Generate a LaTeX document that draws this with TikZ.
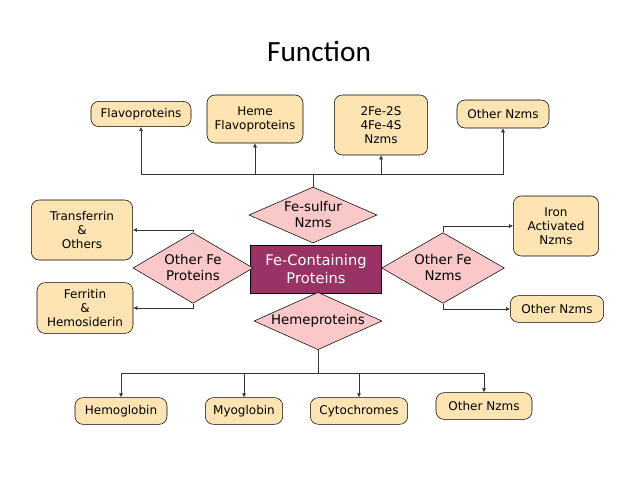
\documentclass[tikz,border=0pt]{standalone}
\usepackage{fontspec}
\setmainfont{DejaVu Sans}
\newfontfamily\titlefont{Carlito}
\usetikzlibrary{shapes.geometric,arrows.meta}
\definecolor{boxfill}{RGB}{253,228,178}
\definecolor{pinkfill}{RGB}{250,200,200}
\definecolor{plum}{RGB}{153,51,102}
\begin{document}
\begin{tikzpicture}[x=0.75pt,y=-0.75pt,
	leaf/.style = {draw, fill=boxfill, rounded corners=6pt, align=center, font=\fontsize{9}{10.5}\selectfont, inner sep=2pt},
	kind/.style = {draw, fill=pinkfill, diamond, aspect=2.2, align=center, font=\fontsize{10}{12}\selectfont, inner sep=0pt},
	link/.style = {draw=black!80, thin, -{Latex[length=3pt,width=3pt]}},
	line/.style = {draw=black!80, thin}]

	\useasboundingbox (0,0) rectangle (638,479);
	\node[font=\titlefont\fontsize{22}{26}\selectfont] (title) at (319,51) {Function};

	% centre and the four kinds
	\node[draw, fill=plum, text=white, minimum width=98pt, minimum height=36pt, align=center, font=\fontsize{11}{13}\selectfont] (fe) at (316,269) {Fe-Containing\\Proteins};
	\node[kind, minimum width=96pt, minimum height=42pt] (sulfur) at (313,215) {Fe-sulfur\\Nzms};
	\node[kind, minimum width=90pt, minimum height=53pt] (otherp) at (193,268) {Other Fe\\Proteins};
	\node[kind, minimum width=92pt, minimum height=53pt] (othern) at (443,268) {Other Fe\\Nzms};
	\node[kind, minimum width=96pt, minimum height=43pt] (heme) at (318,321) {Hemeproteins};

	% leaves
	\node[leaf, minimum width=75pt, minimum height=19pt] (flavo) at (141,114) {Flavoproteins};
	\node[leaf, minimum width=72pt, minimum height=36pt] (hflavo) at (255,119) {Heme\\Flavoproteins};
	\node[leaf, minimum width=70pt, minimum height=45pt] (fes) at (381,125) {2Fe-2S\\4Fe-4S\\Nzms};
	\node[leaf, minimum width=69pt, minimum height=21pt] (nzmtop) at (503,114) {Other Nzms};
	\node[leaf, minimum width=76pt, minimum height=45pt] (transf) at (82,230) {Transferrin\\\&\\Others};
	\node[leaf, minimum width=72pt, minimum height=38pt] (ferrit) at (85,308) {Ferritin\\\&\\Hemosiderin};
	\node[leaf, minimum width=64pt, minimum height=45pt] (iron) at (556,226) {Iron\\Activated\\Nzms};
	\node[leaf, minimum width=70pt, minimum height=20pt] (nzmright) at (557,309) {Other Nzms};
	\node[leaf, minimum width=69pt, minimum height=20pt] (hemog) at (121,411) {Hemoglobin};
	\node[leaf, minimum width=58pt, minimum height=20pt] (myog) at (244,411) {Myoglobin};
	\node[leaf, minimum width=73pt, minimum height=20pt] (cyto) at (359,411) {Cytochromes};
	\node[leaf, minimum width=72pt, minimum height=20pt] (nzmbot) at (484,406) {Other Nzms};

	% top bus
	\coordinate (tbus) at (285,174);
	\draw[line] (sulfur.north) |- (tbus);
	\draw[link] (tbus) -| (flavo.south);
	\draw[link] (tbus) -| (hflavo.south);
	\draw[link] (tbus) -| (fes.south);
	\draw[link] (tbus) -| (nzmtop.south);

	% side links
	\draw[link] (otherp.north) |- (transf.east);
	\draw[link] (otherp.south) |- (ferrit.east);
	\draw[link] (othern.north) |- (iron.west);
	\draw[link] (othern.south) |- (nzmright.west);

	% bottom bus
	\coordinate (bbus) at (318,373);
	\draw[line] (heme.south) -- (bbus);
	\draw[link] (bbus) -| (hemog.north);
	\draw[link] (bbus) -| (myog.north);
	\draw[link] (bbus) -| (cyto.north);
	\draw[link] (bbus) -| (nzmbot.north);
\end{tikzpicture}
\end{document}
